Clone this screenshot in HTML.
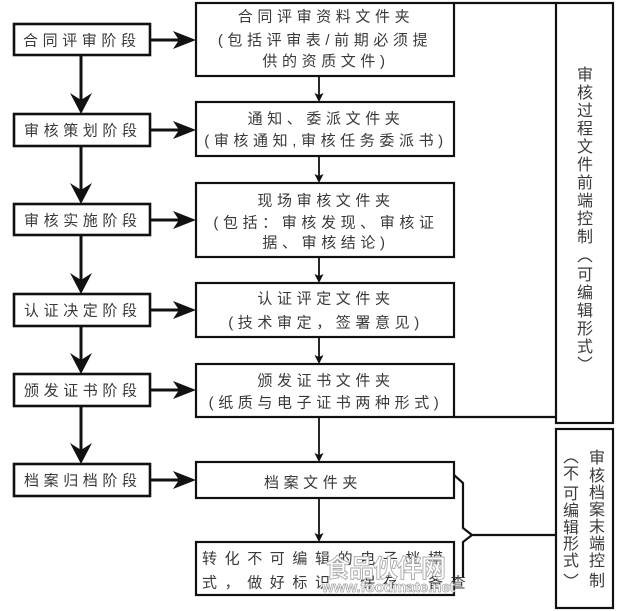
<!DOCTYPE html>
<html><head><meta charset="utf-8"><style>
html,body{margin:0;padding:0;background:#fff;}
svg{display:block;}
text{font-family:"Liberation Sans","Noto Sans CJK SC",sans-serif;fill:#3a3a3a;}
.h{font-size:15px;letter-spacing:4.6px;}
.v{font-size:16px;text-anchor:middle;}
</style></head><body>
<svg width="618" height="611" viewBox="0 0 618 611" xmlns="http://www.w3.org/2000/svg">
<rect width="618" height="611" fill="#fff"/>
<!-- left boxes -->
<g fill="none" stroke="#111" stroke-width="2.6">
<rect x="14" y="24" width="136" height="31"/>
<rect x="14" y="114" width="136" height="32"/>
<rect x="14" y="204" width="136" height="31"/>
<rect x="14" y="294" width="136" height="32"/>
<rect x="14" y="374" width="136" height="32"/>
<rect x="14" y="464" width="136" height="32"/>
</g>
<g class="h">
<text x="23" y="45.5">合同评审阶段</text>
<text x="24" y="135.5">审核策划阶段</text>
<text x="24" y="225.5">审核实施阶段</text>
<text x="24" y="315.5">认证决定阶段</text>
<text x="24" y="395.5">颁发证书阶段</text>
<text x="24" y="485.5">档案归档阶段</text>
</g>
<!-- left vertical arrows -->
<g stroke="#111" stroke-width="3">
<line x1="81" y1="55" x2="81" y2="102"/>
<line x1="81" y1="146" x2="81" y2="193"/>
<line x1="81" y1="235" x2="81" y2="282"/>
<line x1="81" y1="326" x2="81" y2="363"/>
<line x1="81" y1="406" x2="81" y2="453"/>
</g>
<g fill="#111">
<path d="M81,114 L70,93 L81,100 L92,93 Z"/>
<path d="M81,204 L70,183 L81,190 L92,183 Z"/>
<path d="M81,294 L70,273 L81,280 L92,273 Z"/>
<path d="M81,374 L70,353 L81,360 L92,353 Z"/>
<path d="M81,464 L70,443 L81,450 L92,443 Z"/>
</g>
<!-- horizontal arrows -->
<g stroke="#111" stroke-width="3">
<line x1="150" y1="40" x2="182" y2="40"/>
<line x1="150" y1="130" x2="182" y2="130"/>
<line x1="150" y1="220" x2="182" y2="220"/>
<line x1="150" y1="310" x2="182" y2="310"/>
<line x1="150" y1="390" x2="182" y2="390"/>
<line x1="150" y1="480" x2="182" y2="480"/>
</g>
<g fill="#111">
<path d="M196,40 L173,31 L179,40 L173,49 Z"/>
<path d="M196,130 L173,121 L179,130 L173,139 Z"/>
<path d="M196,220 L173,211 L179,220 L173,229 Z"/>
<path d="M196,310 L173,301 L179,310 L173,319 Z"/>
<path d="M196,390 L173,381 L179,390 L173,399 Z"/>
<path d="M196,480 L173,471 L179,480 L173,489 Z"/>
</g>
<!-- right boxes -->
<g fill="none" stroke="#111" stroke-width="2.2">
<rect x="196" y="3" width="258" height="73"/>
<rect x="196" y="102" width="258" height="54"/>
<rect x="196" y="183" width="258" height="74"/>
<rect x="196" y="283" width="258" height="54"/>
<rect x="196" y="364" width="258" height="53"/>
<rect x="196" y="462" width="258" height="36"/>
<rect x="196" y="542" width="258" height="53"/>
<line x1="454" y1="3" x2="556" y2="3"/>
<line x1="454" y1="417" x2="556" y2="417"/>
<rect x="556" y="3" width="57" height="420"/>
<rect x="556" y="429" width="57" height="179"/>
<path d="M454,475 L463,483 L463,528 L472,535 L556,535 M472,535 L463,542 L463,578"/>
</g>
<!-- small vertical arrows -->
<g stroke="#111" stroke-width="1.8">
<line x1="319" y1="76" x2="319" y2="95"/>
<line x1="319" y1="156" x2="319" y2="176"/>
<line x1="319" y1="257" x2="319" y2="276"/>
<line x1="319" y1="337" x2="319" y2="357"/>
<line x1="319" y1="417" x2="319" y2="455"/>
<line x1="319" y1="498" x2="319" y2="535"/>
</g>
<g fill="#111">
<path d="M319,102 L314.5,93 L319,95 L323.5,93 Z"/>
<path d="M319,183 L314.5,174 L319,176 L323.5,174 Z"/>
<path d="M319,283 L314.5,274 L319,276 L323.5,274 Z"/>
<path d="M319,364 L314.5,355 L319,357 L323.5,355 Z"/>
<path d="M319,462 L314.5,453 L319,455 L323.5,453 Z"/>
<path d="M319,542 L314.5,533 L319,535 L323.5,533 Z"/>
</g>
<!-- right box text -->
<g class="h" text-anchor="middle">
<text x="326" y="21.5">合同评审资料文件夹</text>
<text x="325" y="45">(包括评审表/前期必须提</text>
<text x="326" y="66">供的资质文件)</text>
<text x="326" y="123.5">通知、委派文件夹</text>
<text x="326" y="145.5">(审核通知,审核任务委派书)</text>
<text x="326" y="205.5">现场审核文件夹</text>
<text x="326" y="227.5">(包括：审核发现、审核证</text>
<text x="326" y="247.5">据、审核结论)</text>
<text x="326" y="303.5">认证评定文件夹</text>
<text x="326" y="327.5">(技术审定，签署意见)</text>
<text x="326" y="385.5">颁发证书文件夹</text>
<text x="326" y="407.5">(纸质与电子证书两种形式)</text>
<text x="313" y="487.5">档案文件夹</text>
</g>
<g class="h" style="letter-spacing:7.6px">
<text x="202" y="563.5">转化不可编辑的电子档模</text>
<text x="202" y="587.5">式，做好标识、保存、备查</text>
</g>
<!-- vertical text box 1 -->
<g class="v">
<text x="585" y="80">审</text>
<text x="585" y="98">核</text>
<text x="585" y="116">过</text>
<text x="585" y="134">程</text>
<text x="585" y="152">文</text>
<text x="585" y="170">件</text>
<text x="585" y="188">前</text>
<text x="585" y="206">端</text>
<text x="585" y="224">控</text>
<text x="585" y="242">制</text>
<text x="585" y="280">可</text>
<text x="585" y="298">编</text>
<text x="585" y="316">辑</text>
<text x="585" y="334">形</text>
<text x="585" y="352">式</text>
</g>
<!-- vertical text box 2 -->
<g class="v">
<text x="597" y="463">审</text>
<text x="597" y="481">核</text>
<text x="597" y="498">档</text>
<text x="597" y="515">案</text>
<text x="597" y="532">末</text>
<text x="597" y="549">端</text>
<text x="597" y="566">控</text>
<text x="597" y="586">制</text>
<text x="571" y="479">不</text>
<text x="571" y="499">可</text>
<text x="571" y="516">编</text>
<text x="571" y="533">辑</text>
<text x="571" y="549">形</text>
<text x="571" y="566">式</text>
</g>
<!-- vertical parentheses -->
<g fill="none" stroke="#3a3a3a" stroke-width="1.3">
<path d="M578,262 Q585,254 592,262"/>
<path d="M578,357 Q585,365 592,357"/>
<path d="M564,463 Q571,455 578,463"/>
<path d="M564,574 Q571,582 578,574"/>
</g>
<!-- watermark -->
<text x="325" y="577" style="font-size:25px;fill:#fff;stroke:#aaa;stroke-width:0.9px;letter-spacing:-1px;font-weight:bold;">食品伙伴网</text>
<text x="322" y="592" style="font-size:15px;fill:#fff;stroke:#aaa;stroke-width:0.8px;font-weight:bold;">www.foodmate.net</text>
</svg>
</body></html>
